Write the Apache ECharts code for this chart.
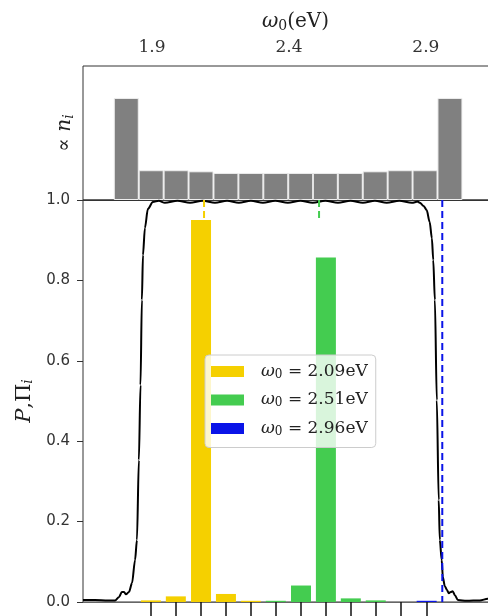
<!DOCTYPE html>
<html><head><meta charset="utf-8">
<script src="https://cdn.jsdelivr.net/npm/echarts@6/dist/echarts.min.js"></script>
<style>html,body{margin:0;padding:0;background:#fff}#c{width:488px;height:616px}</style>
</head><body><div id="c"></div>
<script>
// ---- data ----
const topTicks = [1.9, 2.4, 2.9];
const binCenters = [1.806, 1.897, 1.988, 2.079, 2.170, 2.261, 2.352, 2.443, 2.533, 2.624, 2.715, 2.806, 2.897, 2.988];
const binCounts  = [3.77, 1.10, 1.10, 1.06, 1.00, 1.00, 1.00, 1.00, 1.00, 1.00, 1.06, 1.10, 1.10, 3.77];
const modeOmega = [1.896, 1.987, 2.079, 2.170, 2.261, 2.352, 2.444, 2.535, 2.626, 2.717, 2.809, 2.903];
const yellowPi = [0.004, 0.014, 0.950, 0.020, 0.003, null, null, null, null, null, null, null];
const greenPi  = [null, null, null, null, null, 0.003, 0.041, 0.857, 0.009, 0.004, null, null];
const bluePi   = [null, null, null, null, null, null, null, null, null, null, null, 0.003];
const seriesNames = ['ω0 = 2.09eV', 'ω0 = 2.51eV', 'ω0 = 2.96eV'];
const lineOmega = [2.09, 2.51, 2.96];
const lineTop = [1.0, 1.0, 1.0];
const lineBottom = [0.955, 0.955, 0.0];
const curveOmega = [1.648,1.692,1.739,1.765,1.779,1.790,1.798,1.805,1.816,1.827,1.838,1.845,1.852,1.858,1.863,1.867,1.874,1.885,1.903,1.925,1.947,1.993,2.039,2.085,2.130,2.174,2.217,2.261,2.305,2.350,2.396,2.442,2.487,2.533,2.579,2.625,2.670,2.714,2.757,2.803,2.849,2.871,2.878,2.892,2.903,2.914,2.922,2.927,2.933,2.940,2.947,2.951,2.958,2.962,2.969,2.977,2.984,2.991,2.998,3.006,3.017,3.049,3.097,3.126,3.200];
const curveP = [0.005,0.005,0.004,0.004,0.012,0.025,0.025,0.019,0.025,0.047,0.104,0.154,0.353,0.540,0.751,0.863,0.930,0.978,0.995,0.998,0.993,0.998,0.993,0.998,0.993,0.998,0.993,0.998,0.993,0.998,0.993,0.998,0.993,0.998,0.993,0.998,0.993,0.998,0.993,0.998,0.993,0.996,0.993,0.985,0.975,0.945,0.905,0.851,0.751,0.502,0.254,0.154,0.104,0.062,0.040,0.030,0.022,0.025,0.027,0.017,0.005,0.003,0.004,0.008,0.012];

// ---- styles ----
const colors = ['#f5d000', '#44cc50', '#0a14e8'];
const XMIN = 1.648, XMAX = 3.2;
const serif = 'DejaVu Serif';

const pairs = (xs, ys) => xs.map((x, i) => [x, ys[i]]).filter(p => p[1] !== null);

const chart = echarts.init(document.getElementById('c'), null, {renderer: 'canvas'});
const barSeries = [yellowPi, greenPi, bluePi].map((vals, k) => ({
  type: 'bar', name: seriesNames[k], xAxisIndex: 1, yAxisIndex: 1,
  data: pairs(modeOmega, vals), barWidth: 20, barGap: '-100%',
  itemStyle: {color: colors[k]}, z: 3
}));
const dashSeries = lineOmega.map((w, k) => ({
  type: 'line', xAxisIndex: 1, yAxisIndex: 1, silent: true, showSymbol: false, symbol: 'none',
  data: [[w, lineTop[k]], [w, lineBottom[k]]],
  lineStyle: {color: colors[k], width: 2, type: [7, 4]}, z: 4
}));

chart.setOption({
  animation: false,
  grid: [
    {left: 83, top: 66, width: 425, height: 134, show: true, borderColor: '#333', borderWidth: 1, outerBoundsMode: 'none', containLabel: false},
    {left: 83, top: 200, width: 425, height: 402, show: true, borderColor: '#333', borderWidth: 1, outerBoundsMode: 'none', containLabel: false}
  ],
  xAxis: [
    {type: 'value', gridIndex: 0, position: 'top', min: XMIN, max: XMAX,
     name: '{i|ω}{s|0}{t|(eV)}', nameLocation: 'middle', nameGap: 33,
     nameTextStyle: {rich: {
       i: {fontFamily: serif, fontStyle: 'italic', fontSize: 20, color: '#222'},
       s: {fontFamily: serif, fontSize: 14, color: '#222', verticalAlign: 'bottom', padding: [8, 0, 0, 0]},
       t: {fontFamily: serif, fontSize: 20, color: '#222'}}},
     axisLine: {show: true, lineStyle: {color: '#333'}},
     axisTick: {show: true, customValues: topTicks, length: 5, lineStyle: {color: '#333'}},
     axisLabel: {show: true, customValues: topTicks, formatter: v => v.toFixed(1), fontFamily: serif, fontSize: 17, color: '#333', margin: 10},
     splitLine: {show: false}},
    {type: 'value', gridIndex: 1, position: 'bottom', min: XMIN, max: XMAX,
     axisLine: {show: true, lineStyle: {color: '#666'}},
     axisTick: {show: true, customValues: modeOmega, length: 14, lineStyle: {color: '#111', width: 1.5}},
     axisLabel: {show: false}, splitLine: {show: false}}
  ],
  yAxis: [
    {type: 'value', gridIndex: 0, min: 0, max: 4.95,
     name: '{a|∝ }{i|n}{s|i}', nameLocation: 'middle', nameRotate: 90, nameGap: 7,
     nameTextStyle: {rich: {
       a: {fontFamily: serif, fontSize: 20, color: '#222'},
       i: {fontFamily: serif, fontStyle: 'italic', fontSize: 20, color: '#222'},
       s: {fontFamily: serif, fontStyle: 'italic', fontSize: 14, color: '#222', verticalAlign: 'bottom', padding: [8, 0, 0, 0]}}},
     axisLine: {show: false}, axisTick: {show: false}, axisLabel: {show: false}, splitLine: {show: false}},
    {type: 'value', gridIndex: 1, min: 0, max: 1, interval: 0.2,
     name: '{i|P}{t|,Π}{s|i}', nameLocation: 'middle', nameRotate: 90, nameGap: 44,
     nameTextStyle: {rich: {
       i: {fontFamily: serif, fontStyle: 'italic', fontSize: 21, color: '#222'},
       t: {fontFamily: serif, fontSize: 21, color: '#222'},
       s: {fontFamily: serif, fontStyle: 'italic', fontSize: 14, color: '#222', verticalAlign: 'bottom', padding: [8, 0, 0, 0]}}},
     axisLine: {show: false},
     axisTick: {show: true, length: 6, lineStyle: {color: '#333'}},
     axisLabel: {formatter: v => v.toFixed(1), fontFamily: 'DejaVu Sans', fontSize: 15, color: '#333', margin: 13},
     splitLine: {show: false}}
  ],
  legend: {
    data: seriesNames, orient: 'vertical', left: 205, top: 355,
    itemWidth: 33, itemHeight: 11, itemGap: 11, icon: 'rect',
    padding: [8, 8, 10, 6],
    backgroundColor: 'rgba(255,255,255,0.8)', borderColor: '#ccc', borderWidth: 1, borderRadius: 4,
    formatter: name => '{i|ω}{s|0}{t| = ' + name.split('= ')[1] + '}',
    textStyle: {padding: [0, 0, 0, 12], rich: {
      i: {fontFamily: serif, fontStyle: 'italic', fontSize: 17, color: '#222'},
      s: {fontFamily: serif, fontSize: 12, color: '#222', verticalAlign: 'bottom', padding: [6, 0, 0, 0]},
      t: {fontFamily: serif, fontSize: 17, color: '#222'}}},
    z: 10
  },
  series: [
    {type: 'bar', xAxisIndex: 0, yAxisIndex: 0, data: pairs(binCenters, binCounts), barWidth: 25,
     itemStyle: {color: '#808080', borderColor: '#eeeeee', borderWidth: 1}, silent: true},
    ...barSeries,
    {type: 'line', xAxisIndex: 1, yAxisIndex: 1, data: pairs(curveOmega, curveP), showSymbol: false, symbol: 'none',
     smooth: 0.3, smoothMonotone: 'x', lineStyle: {color: '#000', width: 2}, z: 3, silent: true},
    ...dashSeries
  ]
});
</script></body></html>
